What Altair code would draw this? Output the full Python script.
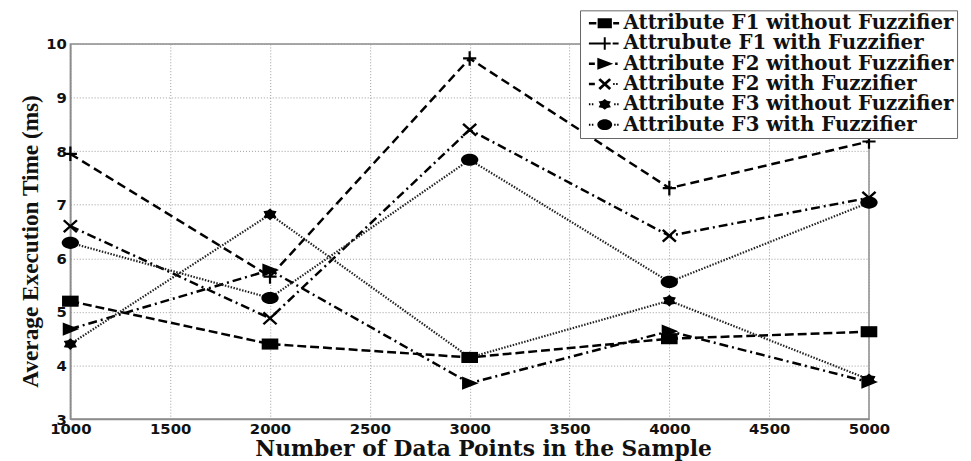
import altair as alt
import pandas as pd

# ---------------- data ----------------
x_values = [1000, 2000, 3000, 4000, 5000]
series_names = [
    "Attribute F1 without Fuzzifier",
    "Attrubute F1 with Fuzzifier",
    "Attribute F2 without Fuzzifier",
    "Attribute F2 with Fuzzifier",
    "Attribute F3 without Fuzzifier",
    "Attribute F3 with Fuzzifier",
]
f1_without = [5.20, 4.40, 4.15, 4.50, 4.63]
f1_with = [7.95, 5.66, 9.73, 7.31, 8.18]
f2_without = [4.68, 5.78, 3.67, 4.64, 3.69]
f2_with = [6.60, 4.88, 8.40, 6.42, 7.13]
f3_without = [4.40, 6.82, 4.15, 5.21, 3.74]
f3_with = [6.29, 5.26, 7.84, 5.56, 7.04]

x_ticks = [1000, 1500, 2000, 2500, 3000, 3500, 4000, 4500, 5000]
y_ticks = [3, 4, 5, 6, 7, 8, 9, 10]

all_series = [f1_without, f1_with, f2_without, f2_with, f3_without, f3_with]
rows = []
for name, vals in zip(series_names, all_series):
    for xv, yv in zip(x_values, vals):
        rows.append({"n": xv, "t": yv, "series": name})
df = pd.DataFrame(rows)

# ---------------- styles ----------------
dashes = [[9, 4], [9, 5], [9, 4, 2, 4], [9, 4, 2, 4], [1.5, 1.5], [1.5, 1.5]]

plot_shapes = [
    "M-1.2,-0.8H1.2V0.8H-1.2Z",
    "M-0.95,-0.16H-0.16V-1.05H0.16V-0.16H0.95V0.16H0.16V1.05H-0.16V0.16H-0.95Z",
    "M-1.1,-0.95L1.3,0L-1.1,0.95Z",
    "M-1.07,-0.73L0.83,0.97L1.07,0.73L-0.83,-0.97Z M-0.83,0.97L1.07,-0.73L0.83,-0.97L-1.07,0.73Z",
    "M0,-0.85L0.35,-0.55L0.95,-0.45L0.7,0L0.95,0.45L0.35,0.55L0,0.85L-0.35,0.55L-0.95,0.45L-0.7,0L-0.95,-0.45L-0.35,-0.55Z",
    "M-1.25,0A1.25,0.88 0 1,0 1.25,0A1.25,0.88 0 1,0 -1.25,0Z",
]

legend_shapes = [
    "M-1.6,-0.13H-0.85V0.13H-1.6Z M-0.72,-0.5H0.72V0.5H-0.72Z M0.85,-0.13H1.45V0.13H0.85Z",
    "M-1.6,-0.1H0.6V0.1H-1.6Z M-0.1,-0.62H0.1V0.62H-0.1Z M0.8,-0.1H1.4V0.1H0.8Z",
    "M-1.6,-0.13H-1.0V0.13H-1.6Z M-0.75,-0.6L0.85,0L-0.75,0.6Z M1.05,-0.12H1.3V0.12H1.05Z",
    "M-1.6,-0.13H-1.0V0.13H-1.6Z M-0.65,-0.4L0.45,0.6L0.65,0.4L-0.45,-0.6Z M-0.45,0.6L0.65,-0.4L0.45,-0.6L-0.65,0.4Z M0.85,-0.1H1.0V0.1H0.85Z M1.15,-0.1H1.3V0.1H1.15Z",
    "M-1.6,-0.1H-1.45V0.1H-1.6Z M-1.3,-0.1H-1.15V0.1H-1.3Z M0,-0.55L0.23,-0.36L0.62,-0.3L0.46,0L0.62,0.3L0.23,0.36L0,0.55L-0.23,0.36L-0.62,0.3L-0.46,0L-0.62,-0.3L-0.23,-0.36Z M0.95,-0.1H1.1V0.1H0.95Z M1.25,-0.1H1.4V0.1H1.25Z",
    "M-1.6,-0.1H-1.45V0.1H-1.6Z M-1.3,-0.1H-1.15V0.1H-1.3Z M-0.75,0A0.75,0.55 0 1,0 0.75,0A0.75,0.55 0 1,0 -0.75,0Z M0.95,-0.1H1.1V0.1H0.95Z M1.25,-0.1H1.4V0.1H1.25Z",
]

x_enc = alt.X(
    "n:Q",
    scale=alt.Scale(domain=[1000, 5000], nice=False),
    axis=alt.Axis(
        values=x_ticks, format="d", title="Number of Data Points in the Sample",
        titleFont="DejaVu Serif", titleFontSize=22, titlePadding=2,
        titleX=417, titleAlign="center",
        labelPadding=3, labelFlush=False,
    ),
)
y_enc = alt.Y(
    "t:Q",
    scale=alt.Scale(domain=[3, 10], nice=False),
    axis=alt.Axis(
        values=y_ticks, title="Average Execution Time (ms)",
        titleFont="Liberation Serif", titleFontSize=23.5, titlePadding=3,
        titleY=199, titleAlign="center",
        labelPadding=4, labelFlush=False,
    ),
)
dash_enc = alt.StrokeDash(
    "series:N", scale=alt.Scale(domain=series_names, range=dashes), legend=None
)

base = alt.Chart(df)

lines_dashed = base.mark_line(color="black", strokeWidth=2.5, strokeCap="butt").encode(
    x=x_enc, y=y_enc, strokeDash=dash_enc, detail="series:N"
).transform_filter(
    alt.FieldOneOfPredicate(field="series", oneOf=series_names[:4])
)

lines_dotted = base.mark_line(color="#222", strokeWidth=2.2, strokeCap="butt").encode(
    x=x_enc, y=y_enc, strokeDash=dash_enc, detail="series:N"
).transform_filter(
    alt.FieldOneOfPredicate(field="series", oneOf=series_names[4:])
)

points = base.mark_point(filled=True, size=196, color="black", opacity=1, strokeWidth=0).encode(
    x=x_enc, y=y_enc,
    shape=alt.Shape("series:N", scale=alt.Scale(domain=series_names, range=plot_shapes), legend=None),
)

legend_layer = base.mark_point(filled=True, size=400, color="black", opacity=0, strokeWidth=0).encode(
    x=x_enc, y=y_enc,
    shape=alt.Shape(
        "series:N",
        scale=alt.Scale(domain=series_names, range=legend_shapes),
        legend=alt.Legend(
            title=None, orient="none", legendX=515, legendY=-34,
            labelFont="DejaVu Serif", labelFontWeight="bold", labelFontSize=20,
            labelColor="#111", labelLimit=500,
            symbolSize=400, symbolOpacity=1, symbolStrokeWidth=0,
            symbolFillColor="black",
            strokeColor="#666", fillColor="white", padding=3,
            symbolOffset=12, labelOffset=9, rowPadding=0.5,
        ),
    ),
)

chart = alt.layer(lines_dashed, lines_dotted, points, legend_layer).resolve_scale(
    shape="independent"
).properties(
    width=807, height=379,
    autosize=alt.AutoSizeParams(type="none"),
    padding={"left": 63, "top": 34, "right": 95, "bottom": 40},
    background="white",
).configure_view(
    stroke="#8c8c8c", strokeWidth=1.5
).configure_axis(
    labelFont="DejaVu Sans", labelFontWeight="bold", labelFontSize=15, labelColor="#111",
    titleFontWeight="bold", titleColor="#111",
    grid=True, gridColor="#9a9a9a", gridDash=[1, 2], gridWidth=1,
    domainColor="#8c8c8c", domainWidth=1.5, ticks=False,
)

chart.save("out.html", embed_options={"renderer": "svg", "actions": False})
